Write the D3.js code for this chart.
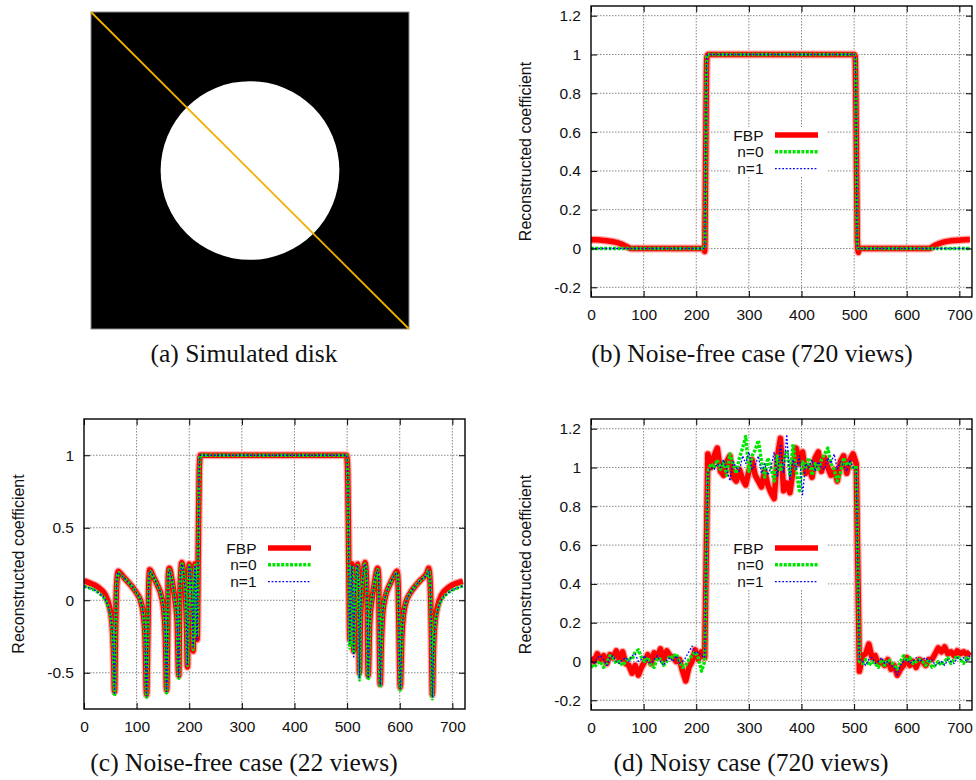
<!DOCTYPE html>
<html>
<head>
<meta charset="utf-8">
<script src="https://cdnjs.cloudflare.com/ajax/libs/d3/7.8.5/d3.min.js"></script>
<style>
  body { margin: 0; background: #fff; }
  svg { display: block; }
  .axis text, .legend text, .ylabel { font-family: "Liberation Sans", Arial, Helvetica, sans-serif; font-size: 15.5px; fill: #111; }
  .ylabel { font-size: 16px; }
  .caption { font-family: "Liberation Serif", "Times New Roman", serif; font-size: 25.5px; fill: #111; }
</style>
</head>
<body>
<div class="svg-container"></div>
<script>
// tick labels and legend
var xTicks = [0, 100, 200, 300, 400, 500, 600, 700];
var xTickLabels = ["0", "100", "200", "300", "400", "500", "600", "700"];
var yTicksFine = [-0.2, 0, 0.2, 0.4, 0.6, 0.8, 1, 1.2];
var yTickLabelsFine = ["-0.2", "0", "0.2", "0.4", "0.6", "0.8", "1", "1.2"];
var yTicksCoarse = [-0.5, 0, 0.5, 1];
var yTickLabelsCoarse = ["-0.5", "0", "0.5", "1"];
var legendLabels = ["FBP", "n=0", "n=1"];
var yTitle = "Reconstructed coefficient";
var captions = ["(a) Simulated disk", "(b) Noise-free case (720 views)",
                "(c) Noise-free case (22 views)", "(d) Noisy case (720 views)"];

// (a) disk phantom, unit square coords
var diskCenter = [0.5, 0.5];
var diskRadius = 0.281;
var profileLine = [[0, 0], [1, 1]];

// (b) noise-free, 720 views
var bX   = [0,10,20,30,40,50,60,66,72,76,100,150,200,214,216,218,220,222,300,400,500,502,504,506,508,510,600,640,645,650,655,662,670,680,690,700,710,720];
var bFBP = [0.045,0.045,0.043,0.04,0.036,0.03,0.02,0.012,0.004,0,0,0,0,0,-0.015,0.5,0.98,1,1,1,1,0.99,0.6,0.05,-0.02,0,0,0,0.002,0.01,0.018,0.026,0.033,0.038,0.041,0.043,0.045,0.046];
var bN0  = [0,0,0,0,0,0,0,0,0,0,0,0,0,0,0,0.5,0.99,1,1,1,1,0.99,0.6,0.02,0,0,0,0,0,0,0,0,0,0,0,0,0,0];
var bN1  = [0,0,0,0,0,0,0,0,0,0,0,0,0,0,0,0.5,0.99,1,1,1,1,0.99,0.6,0.02,0,0,0,0,0,0,0,0,0,0,0,0,0,0];

// (c) noise-free, 22 views
var cX = [0,10,20,30,40,48,53,56,58,60,62,65,68,80,90,100,108,113,116,119,121,123,125,132,140,147,152,155,157,159,160,162,168,173,177,180,182,184,186,190,193,195,196.5,198,200,203,205,206.5,207.5,209,211,213,215,217,219,221,
  300,400,
  499,501,503,505,507,509,511,512.5,513.5,515,517,520,522,523.5,525,527,530,534,536,538,540,543,547,552,558,560,561,563,565,568,573,580,588,595,597,599,601,604,607,612,620,630,640,652,655,658,660,662,664,667,672,680,690,700,710,720];
var cFBP = [0.135,0.12,0.105,0.08,0.04,-0.04,-0.15,-0.35,-0.63,-0.2,0.1,0.2,0.19,0.14,0.1,0.05,-0.01,-0.1,-0.25,-0.65,-0.3,0.1,0.21,0.16,0.1,0.03,-0.08,-0.3,-0.62,-0.2,0.15,0.22,0.12,0,-0.15,-0.52,0,0.2,0.26,0.16,0.02,-0.2,-0.46,0,0.25,0.15,0,-0.2,-0.35,0,0.25,0,-0.27,0.3,0.9,1,
  1,1,
  1,0.9,0.3,-0.27,0,0.25,0,-0.35,-0.2,0,0.15,0.25,0,-0.5,-0.2,0.02,0.16,0.26,0.2,0,-0.52,-0.15,0,0.12,0.22,0.15,-0.2,-0.58,-0.3,-0.08,0.03,0.1,0.16,0.2,0.1,-0.3,-0.6,-0.25,-0.1,-0.01,0.05,0.1,0.14,0.19,0.22,0.1,-0.2,-0.65,-0.35,-0.15,-0.04,0.04,0.08,0.105,0.12,0.13];
var cN0 = [0.095,0.085,0.07,0.045,0.005,-0.07,-0.18,-0.38,-0.66,-0.2,0.1,0.19,0.18,0.14,0.1,0.05,-0.01,-0.1,-0.27,-0.67,-0.3,0.1,0.2,0.16,0.1,0.03,-0.08,-0.3,-0.64,-0.2,0.15,0.21,0.12,0,-0.15,-0.54,0,0.2,0.25,0.16,0.02,-0.2,-0.45,0,0.24,0.15,0,-0.2,-0.34,0,0.24,0,-0.25,0.3,0.9,1,
  1,1,
  1,0.9,0.3,-0.33,0,0.24,0,-0.37,-0.2,0,0.15,0.24,0,-0.55,-0.2,0.02,0.16,0.25,0.2,0,-0.55,-0.15,0,0.12,0.21,0.15,-0.2,-0.6,-0.3,-0.08,0.03,0.1,0.16,0.19,0.1,-0.3,-0.62,-0.25,-0.1,-0.01,0.05,0.1,0.14,0.18,0.21,0.1,-0.2,-0.68,-0.38,-0.18,-0.07,0.005,0.045,0.07,0.085,0.1];
var cN1 = [0.095,0.085,0.07,0.045,0.005,-0.07,-0.18,-0.38,-0.65,-0.2,0.1,0.19,0.18,0.14,0.1,0.05,-0.01,-0.1,-0.27,-0.66,-0.3,0.1,0.2,0.16,0.1,0.03,-0.08,-0.3,-0.63,-0.2,0.15,0.21,0.12,0,-0.15,-0.53,0,0.2,0.25,0.16,0.02,-0.2,-0.45,0,0.24,0.15,0,-0.2,-0.33,0,0.24,0,-0.28,0.3,0.9,1,
  1,1,
  1,0.9,0.3,-0.3,0,0.24,0,-0.4,-0.2,0,0.15,0.24,0,-0.54,-0.2,0.02,0.16,0.25,0.2,0,-0.54,-0.15,0,0.12,0.21,0.15,-0.2,-0.59,-0.3,-0.08,0.03,0.1,0.16,0.19,0.1,-0.3,-0.61,-0.25,-0.1,-0.01,0.05,0.1,0.14,0.18,0.21,0.1,-0.2,-0.67,-0.38,-0.18,-0.07,0.005,0.045,0.07,0.085,0.1];

// (d) noisy, 720 views
var dX = [0,6,12,18,24,30,36,42,48,54,60,66,72,78,84,90,96,102,108,114,120,126,132,138,144,150,156,162,168,174,180,186,192,198,204,210,216,
  222,228,234,240,246,252,258,264,270,276,282,288,294,300,306,312,318,324,330,336,342,348,354,360,366,372,378,384,390,396,402,408,414,420,426,432,438,444,450,456,462,468,474,480,486,492,498,504,
  510,516,522,528,534,540,546,552,558,564,570,576,582,588,594,600,606,612,618,624,630,636,642,648,654,660,666,672,678,684,690,696,702,708,714,720];
var dFBP = [0.02,0,0.04,0.01,0.03,-0.01,0.035,0.02,0.055,0.01,0.05,-0.01,-0.02,-0.06,-0.02,-0.07,-0.03,0,0.035,-0.01,0.045,0.02,0.065,0.01,0.055,0.03,0.02,0,0.01,-0.05,-0.1,-0.03,0,0.06,0.01,0.05,0.02,
  1.07,1.0,1.06,1.1,0.98,0.96,1.03,1.06,0.95,0.93,0.99,0.94,0.91,0.98,1.04,0.96,0.93,0.9,0.98,0.91,0.87,0.84,1.05,1.15,0.88,0.92,0.87,0.99,1.1,1.02,1.08,0.97,1.01,0.95,1.05,1.08,0.98,1.05,1.0,0.96,0.99,0.93,1.03,1.06,0.97,1.04,1.07,1.02,
  -0.05,0.03,0.04,0.09,0.02,0.03,-0.01,0,-0.02,0.01,-0.04,-0.02,-0.07,-0.04,-0.02,0.02,-0.02,0,-0.03,0.01,0,-0.02,0.01,0.01,0.04,0.07,0.05,0.075,0.04,0.05,0.03,0.055,0.04,0.05,0.035,0.05];
var dN0 = [-0.02,-0.03,-0.01,0,-0.03,-0.01,0.03,0.02,-0.01,0,-0.02,0,0.02,0.01,0.05,0.06,0.02,0,0.02,-0.02,-0.03,0.02,0.01,-0.02,0,0.03,0.02,0.04,0,-0.03,-0.02,0.01,0.03,0.05,0.02,-0.05,0,
  0.98,1.02,1.0,1.04,0.99,1.03,0.96,1.07,1.02,0.97,1.05,1.1,1.16,0.98,1.06,1.09,1.14,1.03,0.95,1.05,1.0,0.93,1.06,0.98,1.03,1.09,0.96,1.12,0.98,0.88,1.03,1.0,1.05,0.96,1.02,0.99,1.04,1.07,1.1,1.02,0.99,0.93,0.97,1.05,1.01,1.03,0.99,1.01,
  0,-0.01,0.01,-0.02,0,-0.01,-0.03,0.01,-0.02,0.01,0,-0.02,-0.04,0,0.03,0,0.02,-0.01,0,0.01,0,-0.02,0.01,-0.03,-0.02,0,-0.02,0,0.02,-0.01,0.01,0.03,0.01,-0.01,0.02,0.01];
var dN1 = [0,-0.01,0.02,0.03,0.01,-0.02,0.02,0.03,0,-0.01,0.01,0.02,0,0.03,0.04,0,0.01,0.03,0,-0.01,0.01,0.03,0,-0.02,0.01,0.02,0,0.03,-0.01,0,0.02,0.05,0.08,0.04,0.05,0.03,0.02,
  0.97,1.0,0.99,1.02,1.0,1.04,0.99,0.93,1.03,1.0,0.98,1.06,1.02,1.08,0.99,1.01,1.06,0.97,1.02,0.96,1.0,1.08,0.95,1.12,0.97,1.17,0.94,1.04,0.99,1.06,0.86,1.02,1.0,1.04,0.98,1.03,1.0,0.99,1.05,1.02,1.07,0.99,1.03,1.01,0.98,1.04,1.0,0.99,
  0.01,0,-0.02,0.01,0.02,-0.01,0,0.02,-0.01,0,-0.02,-0.03,-0.07,-0.02,0,0.01,-0.01,0,0.02,0,0.01,0.02,0,0.01,-0.02,-0.01,0,-0.02,0.01,0,-0.01,0.02,0.01,0.02,0,0.03];

// line styles for FBP, n=0, n=1 (gnuplot-ish)
var seriesStyle = [
  { color: "#ff0000", width: 5.5, dash: null, halo: "#ffaaaa" },
  { color: "#00e600", width: 3.4, dash: "3,1.4" },
  { color: "#0000ff", width: 1.3, dash: "1.8,1.8" }
];

var svg = d3.select(".svg-container").append("svg")
  .attr("width", 976)
  .attr("height", 780);

var defs = svg.append("defs");
defs.append("filter").attr("id", "soft")
  .append("feGaussianBlur").attr("stdDeviation", 0.5);

/* ---------- panel (a) ---------- */
function drawDisk() {
  var ax = d3.scaleLinear().domain([0, 1]).range([91, 409]);
  var ay = d3.scaleLinear().domain([0, 1]).range([12, 329]);
  svg.append("rect")
    .attr("x", ax(0)).attr("y", ay(0))
    .attr("width", ax(1) - ax(0)).attr("height", ay(1) - ay(0))
    .attr("fill", "#000").attr("stroke", "#8c8c8c").attr("stroke-width", 1);
  svg.append("circle")
    .attr("cx", ax(diskCenter[0])).attr("cy", ay(diskCenter[1]))
    .attr("r", ax(diskRadius) - ax(0))
    .attr("fill", "#fff")
    .attr("filter", "url(#soft)");
  svg.append("line")
    .attr("x1", ax(profileLine[0][0])).attr("y1", ay(profileLine[0][1]))
    .attr("x2", ax(profileLine[1][0])).attr("y2", ay(profileLine[1][1]))
    .attr("stroke", "#f0b000").attr("stroke-width", 1.8);
}

/* ---------- panels (b)-(d) ---------- */
var panels = [
  { id: "b", left: 591, right: 972, top: 6, bottom: 297, yDomain: [-0.25, 1.25],
    yTicks: yTicksFine, yLabels: yTickLabelsFine, x: bX, series: [bFBP, bN0, bN1], curve: d3.curveMonotoneX },
  { id: "c", left: 84, right: 465, top: 419, bottom: 709, yDomain: [-0.75, 1.25],
    yTicks: yTicksCoarse, yLabels: yTickLabelsCoarse, x: cX, series: [cFBP, cN0, cN1], curve: d3.curveMonotoneX },
  { id: "d", left: 591, right: 972, top: 419, bottom: 710, yDomain: [-0.25, 1.25],
    yTicks: yTicksFine, yLabels: yTickLabelsFine, x: dX, series: [dFBP, dN0, dN1], curve: d3.curveLinear }
];

function drawPanel(p) {
  var x = d3.scaleLinear().domain([0, 724]).range([p.left, p.right]);
  var y = d3.scaleLinear().domain(p.yDomain).range([p.bottom, p.top]);
  var g = svg.append("g");

  // grid
  g.selectAll(".gx").data(xTicks.slice(1)).enter().append("line")
    .attr("x1", d => x(d)).attr("x2", d => x(d))
    .attr("y1", p.top).attr("y2", p.bottom)
    .attr("stroke", "#888").attr("stroke-width", 1).attr("stroke-dasharray", "1.5,1.5");
  g.selectAll(".gy").data(p.yTicks).enter().append("line")
    .attr("x1", p.left).attr("x2", p.right)
    .attr("y1", d => y(d)).attr("y2", d => y(d))
    .attr("stroke", "#888").attr("stroke-width", 1).attr("stroke-dasharray", "1.5,1.5");

  // opaque key box
  g.append("rect")
    .attr("x", p.left + 139).attr("y", p.top + 121)
    .attr("width", 98).attr("height", 50)
    .attr("fill", "#fff");

  // data lines
  defs.append("clipPath").attr("id", "clip-" + p.id)
    .append("rect").attr("x", p.left).attr("y", p.top)
    .attr("width", p.right - p.left).attr("height", p.bottom - p.top);
  var plot = g.append("g").attr("clip-path", "url(#clip-" + p.id + ")");

  p.series.forEach(function(vals, i) {
    var st = seriesStyle[i];
    var lineFunction = d3.line()
      .x(function(d, j) { return x(p.x[j]); })
      .y(function(d) { return y(d); })
      .curve(p.curve);
    if (st.halo) {
      plot.append("path").attr("d", lineFunction(vals))
        .attr("fill", "none").attr("stroke", st.halo)
        .attr("stroke-width", st.width + 2.5).attr("stroke-linejoin", "round");
    }
    plot.append("path").attr("d", lineFunction(vals))
      .attr("fill", "none").attr("stroke", st.color)
      .attr("stroke-width", st.width)
      .attr("stroke-linejoin", "round")
      .attr("stroke-dasharray", st.dash);
  });

  // legend
  var lg = g.append("g").attr("class", "legend");
  legendLabels.forEach(function(lab, i) {
    var ly = p.top + 129 + i * 16.8;
    var st = seriesStyle[i];
    lg.append("text").attr("x", p.left + 172.5).attr("y", ly + 5.5)
      .attr("text-anchor", "end").text(lab);
    lg.append("line")
      .attr("x1", p.left + 184).attr("x2", p.left + 227)
      .attr("y1", ly).attr("y2", ly)
      .attr("stroke", st.color).attr("stroke-width", st.width)
      .attr("stroke-dasharray", st.dash);
  });

  // axes, ticks pointing inward on all sides
  g.append("g").attr("class", "axis")
    .attr("transform", "translate(0," + p.bottom + ")")
    .call(d3.axisBottom(x).tickValues(xTicks).tickSize(-6).tickPadding(12)
      .tickFormat(function(d, i) { return xTickLabels[i]; }));
  g.append("g").attr("class", "axis")
    .attr("transform", "translate(0," + p.top + ")")
    .call(d3.axisTop(x).tickValues(xTicks).tickSize(-6).tickFormat(""));
  g.append("g").attr("class", "axis")
    .attr("transform", "translate(" + p.left + ",0)")
    .call(d3.axisLeft(y).tickValues(p.yTicks).tickSize(-6).tickPadding(10)
      .tickFormat(function(d, i) { return p.yLabels[i]; }));
  g.append("g").attr("class", "axis")
    .attr("transform", "translate(" + p.right + ",0)")
    .call(d3.axisRight(y).tickValues(p.yTicks).tickSize(-6).tickFormat(""));
  g.selectAll(".axis .domain").remove();
  g.selectAll(".axis .tick line").attr("stroke", "#000");

  g.append("rect")
    .attr("x", p.left).attr("y", p.top)
    .attr("width", p.right - p.left).attr("height", p.bottom - p.top)
    .attr("fill", "none").attr("stroke", "#000").attr("stroke-width", 1.4);

  g.append("text").attr("class", "ylabel")
    .attr("transform", "translate(" + (p.left - 66) + "," + ((p.top + p.bottom) / 2) + ") rotate(-90)")
    .attr("text-anchor", "middle").attr("dy", "0.35em")
    .text(yTitle);
}

function draw() {
  drawDisk();
  panels.forEach(drawPanel);
  var capPos = [[244, 362], [752, 362], [244, 771], [751, 771]];
  captions.forEach(function(c, i) {
    svg.append("text").attr("class", "caption")
      .attr("x", capPos[i][0]).attr("y", capPos[i][1])
      .attr("text-anchor", "middle").text(c);
  });
}

draw();
</script>
</body>
</html>
